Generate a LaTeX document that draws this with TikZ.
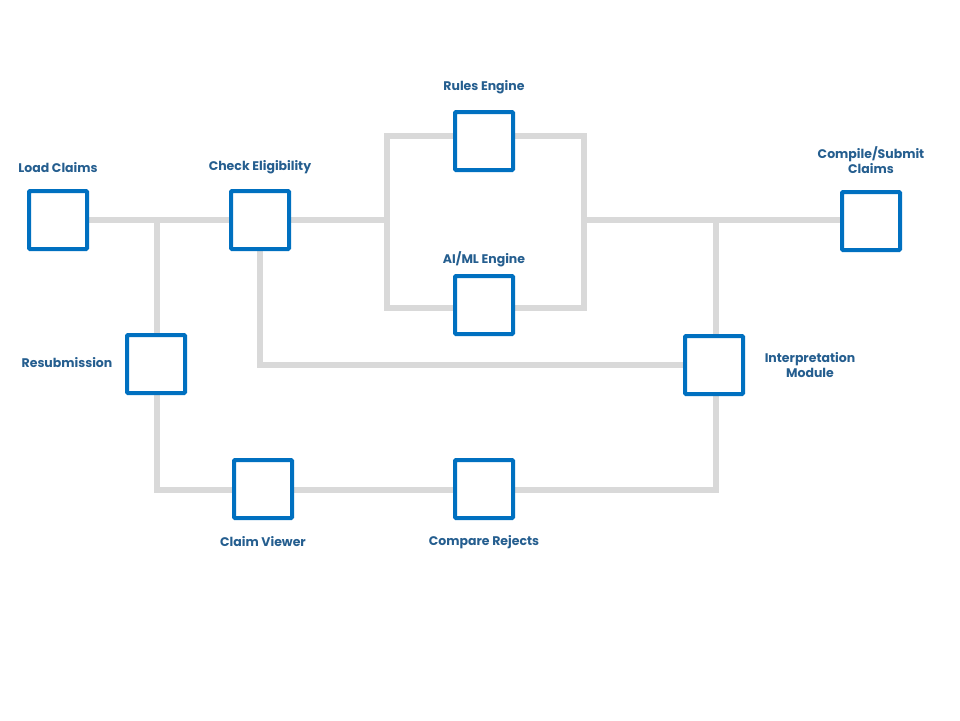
\documentclass[tikz,border=0pt]{standalone}
\usepackage{fontspec}
\setmainfont{Poppins}
\definecolor{boxblue}{HTML}{0070C0}
\definecolor{wiregrey}{HTML}{D9D9D9}
\definecolor{labelblue}{HTML}{255E8F}
\pgfdeclarelayer{background}
\pgfsetlayers{background,main}
\begin{document}
\begin{tikzpicture}[x=1pt,y=-1pt,
  box/.style={draw=boxblue,fill=white,line width=4pt,minimum size=58pt,inner sep=0pt,rounded corners=1pt},
  wire/.style={draw=wiregrey,line width=6pt,line join=miter},
  lbl/.style={text=labelblue,font=\fontsize{12.5}{15.5}\selectfont\bfseries,align=center,inner sep=0pt}]
\useasboundingbox (0,0) rectangle (960,720);
% boxes
\node[box] (load) at (58,220) {};
\node[box] (check) at (260,220) {};
\node[box] (rules) at (484,141) {};
\node[box] (aiml) at (484,305) {};
\node[box] (compile) at (871,221) {};
\node[box] (resub) at (156,364) {};
\node[box] (interp) at (714,365) {};
\node[box] (viewer) at (263,489) {};
\node[box] (compare) at (484,489) {};
% junctions
\coordinate (jL) at (387,220);
\coordinate (jR) at (584,220);
\coordinate (tl) at (387,136);
\coordinate (br) at (584,308);
\coordinate (jA) at (157,220);
\coordinate (jB) at (716,220);
\coordinate (bl) at (157,490);
\coordinate (brr) at (716,490);
% wires
\begin{pgfonlayer}{background}
\draw[wire] (load.east) -- (check.west);
\draw[wire] (check.east) -- (jL);
\draw[wire] (tl) rectangle (br);
\draw[wire] (jR) -- (jR -| compile.west);
\draw[wire] (jA) -- (bl) -- (brr) -- (jB);
\draw[wire] (check.south) |- (interp.west);
\end{pgfonlayer}
% labels
\node[lbl] (tload) at (58,168) {Load Claims};
\node[lbl] (tcheck) at (260,167) {Check Eligibility};
\node[lbl] (trules) at (484,87) {Rules Engine};
\node[lbl] (taiml) at (484,259) {AI/ML Engine};
\node[lbl] (tcompile) at (871,160) {Compile/Submit\\Claims};
\node[lbl] (tresub) at (67,363) {Resubmission};
\node[lbl] (tinterp) at (810,365) {Interpretation\\Module};
\node[lbl] (tviewer) at (263,542) {Claim Viewer};
\node[lbl] (tcompare) at (484,542) {Compare Rejects};
\end{tikzpicture}
\end{document}
